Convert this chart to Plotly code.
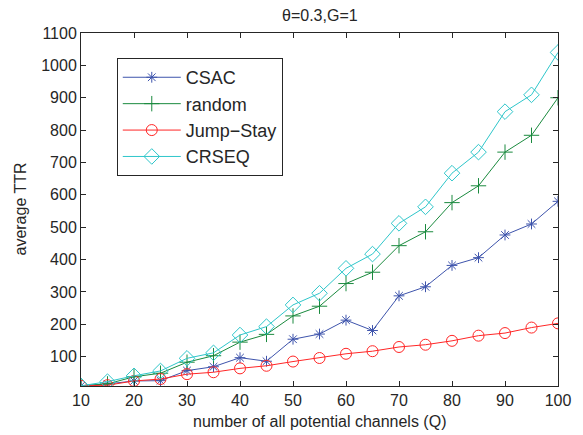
import plotly.graph_objects as go

Q = [10, 15, 20, 25, 30, 35, 40, 45, 50, 55, 60, 65, 70, 75, 80, 85, 90, 95, 100]
csac = [10, 16, 25, 26, 57, 69, 97, 86, 154, 170, 213, 181, 288, 316, 382, 406, 476, 510, 580]
random_ = [10, 16, 38, 49, 83, 103, 145, 169, 226, 256, 326, 361, 443, 486, 576, 628, 732, 784, 900]
jumpstay = [10, 12, 25, 31, 46, 52, 64, 72, 85, 96, 109, 117, 130, 137, 149, 165, 173, 190, 203]
crseq = [10, 23, 41, 56, 95, 112, 167, 193, 260, 296, 373, 417, 512, 563, 667, 732, 857, 909, 1040]

x_ticks = [10, 20, 30, 40, 50, 60, 70, 80, 90, 100]
y_ticks = [100, 200, 300, 400, 500, 600, 700, 800, 900, 1000, 1100]

series = [
    ("CSAC", csac, "#3E54AC", "asterisk-open", 9),
    ("random", random_, "#1A8A3E", "cross-thin-open", 11),
    ("Jump\u2212Stay", jumpstay, "#FF2626", "circle-open", 11),
    ("CRSEQ", crseq, "#2EC6CA", "diamond-open", 12),
]

FONT = "Liberation Sans, Arial"
TXT = "#262626"

fig = go.Figure()
for name, vals, color, sym, size in series:
    fig.add_trace(go.Scatter(
        x=Q, y=vals, name=name, mode="lines+markers",
        line=dict(color=color, width=1),
        marker=dict(symbol=sym, size=size, color=color, line=dict(color=color, width=1)),
    ))

axis_common = dict(
    showline=True, linecolor=TXT, linewidth=1, mirror="ticks",
    ticks="inside", ticklen=5, tickcolor=TXT, showgrid=False, zeroline=False,
    automargin=False,
    tickfont=dict(family=FONT, size=16, color=TXT),
)

# page body adds an 8px offset; figure is sized to fill the rest of the window
fig.update_layout(
    width=575, height=427,
    margin=dict(l=73, r=25, t=25, b=49),
    paper_bgcolor="white", plot_bgcolor="white",
    xaxis=dict(range=[10, 100], tickvals=x_ticks, **axis_common),
    yaxis=dict(range=[9.5, 1100], tickvals=y_ticks, **axis_common),
    legend=dict(x=0.075, y=0.929, xanchor="left", yanchor="top",
                bgcolor="white", bordercolor=TXT, borderwidth=1, itemwidth=58,
                font=dict(family=FONT, size=18, color=TXT)),
    showlegend=True,
    annotations=[
        dict(text="\u03b8=0.3,G=1", xref="paper", yref="paper", x=0.5, y=1,
             yshift=18, xanchor="center", yanchor="middle", showarrow=False,
             font=dict(family=FONT, size=16, color=TXT)),
        dict(text="number of all potential channels (Q)", xref="paper", yref="paper",
             x=0.5, y=0, yshift=-35, xanchor="center", yanchor="middle", showarrow=False,
             font=dict(family=FONT, size=16, color=TXT)),
        dict(text="average TTR", xref="paper", yref="paper", textangle=-90,
             x=0, y=0.5, xshift=-61, xanchor="center", yanchor="middle", showarrow=False,
             font=dict(family=FONT, size=16, color=TXT)),
    ],
)

fig.write_html("out.html")
